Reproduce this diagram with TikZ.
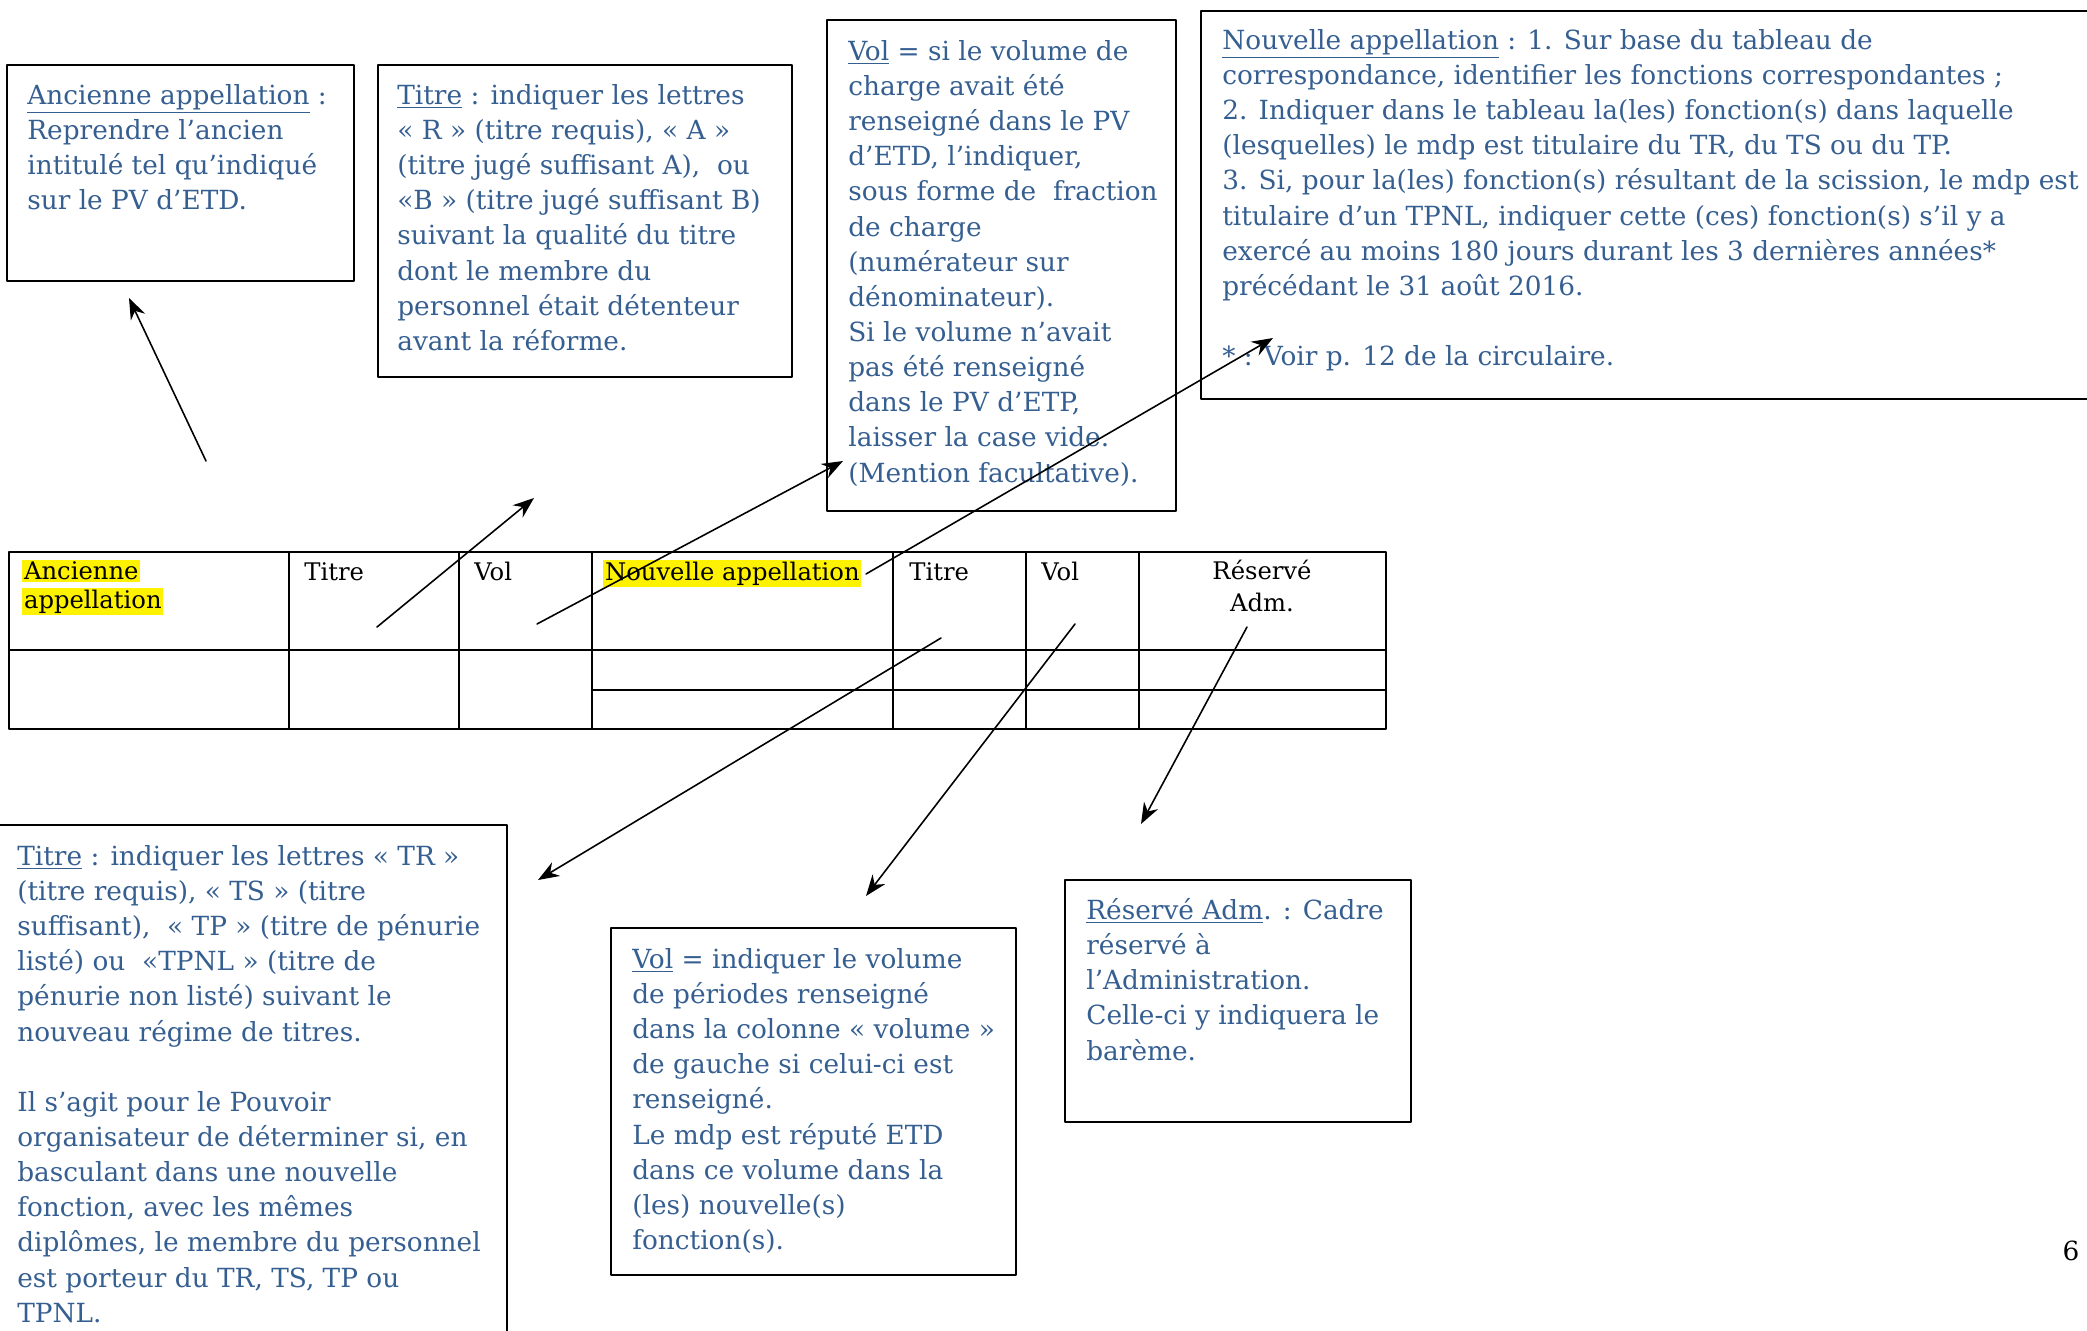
\documentclass[tikz,border=0pt]{standalone}
\usepackage{fontspec}
\setmainfont{DejaVu Serif}
\usetikzlibrary{positioning,arrows.meta}
\definecolor{notecol}{RGB}{54,95,145}
\newcommand{\hlt}[1]{{\setlength{\fboxsep}{1pt}\colorbox{yellow}{#1}}}
\tikzset{
  notebox/.style={draw,line width=1pt},
  notetxt/.style={anchor=north west,inner sep=0pt,align=left,text=notecol,font=\fontsize{15}{20}\selectfont},
  cell/.style={anchor=north west,inner sep=0pt,align=left,font=\fontsize{13.8}{18}\selectfont},
  callout/.style={-{Stealth[length=12pt,width=9pt]},line width=0.9pt}
}
\begin{document}
\begin{tikzpicture}[x=0.02cm,y=-0.02cm,line join=round,line cap=round]
  \useasboundingbox (0,0) rectangle (2087,1330);
  \clip (0,0) rectangle (2087,1330);
  % explanation boxes
  \draw[notebox] (7,65) rectangle (354,281);
  \draw[notebox] (378,65) rectangle (792,377);
  \draw[notebox] (827,20) rectangle (1176,511);
  \draw[notebox] (1201,11) rectangle (2100,399);
  \draw[notebox] (-5,825) rectangle (507,1340);
  \draw[notebox] (611,928) rectangle (1016,1275);
  \draw[notebox] (1065,880) rectangle (1411,1122);
  \node[notetxt] (ancien) at (27,84) {\underline{Ancienne appellation} :\\Reprendre l’ancien\\intitulé tel qu’indiqué\\sur le PV d’ETD.};
  \node[notetxt] (titreA) at (397,84) {\underline{Titre} : indiquer les lettres\\« R » (titre requis), « A »\\(titre jugé suffisant A), \ ou\\«B » (titre jugé suffisant B)\\suivant la qualité du titre\\dont le membre du\\personnel était détenteur\\avant la réforme.};
  \node[notetxt] (volA) at (848,40) {\underline{Vol} = si le volume de\\charge avait été\\renseigné dans le PV\\d’ETD, l’indiquer,\\sous forme de \ fraction\\de charge\\(numérateur sur\\dénominateur).\\Si le volume n’avait\\pas été renseigné\\dans le PV d’ETP,\\laisser la case vide.\\(Mention facultative).};
  \node[notetxt] (nouv) at (1222,29) {\underline{Nouvelle appellation} : 1. Sur base du tableau de\\correspondance, identifier les fonctions correspondantes ;\\2. Indiquer dans le tableau la(les) fonction(s) dans laquelle\\(lesquelles) le mdp est titulaire du TR, du TS ou du TP.\\3. Si, pour la(les) fonction(s) résultant de la scission, le mdp est\\titulaire d’un TPNL, indiquer cette (ces) fonction(s) s’il y a\\exercé au moins 180 jours durant les 3 dernières années*\\précédant le 31 août 2016.\\[20pt]* : Voir p. 12 de la circulaire.};
  \node[notetxt] (titreN) at (17,845) {\underline{Titre} : indiquer les lettres « TR »\\(titre requis), « TS » (titre\\suffisant), \ « TP » (titre de pénurie\\listé) ou \ «TPNL » (titre de\\pénurie non listé) suivant le\\nouveau régime de titres.\\[20pt]Il s’agit pour le Pouvoir\\organisateur de déterminer si, en\\basculant dans une nouvelle\\fonction, avec les mêmes\\diplômes, le membre du personnel\\est porteur du TR, TS, TP ou\\TPNL.};
  \node[notetxt] (volN) at (632,948) {\underline{Vol} = indiquer le volume\\de périodes renseigné\\dans la colonne « volume »\\de gauche si celui-ci est\\renseigné.\\Le mdp est réputé ETD\\dans ce volume dans la\\(les) nouvelle(s)\\fonction(s).};
  \node[notetxt] (adm) at (1086,898) {\underline{Réservé Adm}. : Cadre\\réservé à\\l’Administration.\\Celle-ci y indiquera le\\barème.};
  % the form
  \draw[line width=1.2pt] (9,552) rectangle (1386,729);
  \draw[line width=1.2pt] (9,650) -- (1386,650);
  \draw[line width=1.2pt] (592,690) -- (1386,690);
  \foreach \cx in {289,459,592,893,1026,1139}
    \draw[line width=0.6pt] (\cx,552) -- (\cx,729);
  \node[cell] (hAnc) at (22,560) {\hlt{Ancienne}\\[-2pt]\hlt{appellation}};
  \node[cell] (hTitA) at (304,562) {Titre};
  \node[cell] (hVolA) at (474,562) {Vol};
  \node[cell] (hNouv) at (603,560) {\hlt{Nouvelle appellation}};
  \node[cell] (hTitN) at (909,562) {Titre};
  \node[cell] (hVolN) at (1041,562) {Vol};
  \node[cell,anchor=north,align=center] (hAdm) at (1262,560) {Réservé\\Adm.};
  \node[font=\fontsize{15}{20}\selectfont] (page) at (2071,1251) {6};
  % callouts
  \coordinate (s1) at (206,461); \coordinate (e1) at (129,298);
  \coordinate (s2) at (377,627); \coordinate (e2) at (534,498);
  \coordinate (s3) at (537,624); \coordinate (e3) at (843,461);
  \coordinate (s4) at (866,574); \coordinate (e4) at (1273,338);
  \coordinate (s5) at (941,638); \coordinate (e5) at (538,880);
  \coordinate (s6) at (1075,624); \coordinate (e6) at (866,896);
  \coordinate (s7) at (1247,627); \coordinate (e7) at (1141,824);
  \foreach \i in {1,...,7}
    \draw[callout] (s\i) -- (e\i);
\end{tikzpicture}
\end{document}
